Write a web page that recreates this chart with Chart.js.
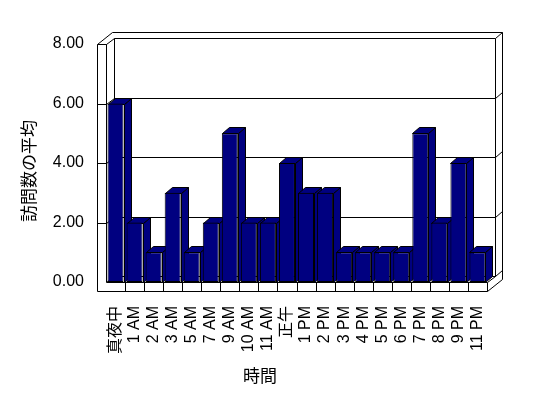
<!DOCTYPE html>
<html>
<head>
<meta charset="utf-8">
<script src="https://cdn.jsdelivr.net/npm/chart.js@4.4.0/dist/chart.umd.min.js"></script>
<style>
  body { margin: 0; background: #fff; }
  #wrap { width: 548px; height: 398px; }
</style>
</head>
<body>
<div id="wrap"><canvas id="visitsChart" width="548" height="398"></canvas></div>
<script>
// data
const hours = ["真夜中", "1 AM", "2 AM", "3 AM", "5 AM", "7 AM", "9 AM", "10 AM", "11 AM", "正午",
  "1 PM", "2 PM", "3 PM", "4 PM", "5 PM", "6 PM", "7 PM", "8 PM", "9 PM", "11 PM"];
const avgVisits = [6, 2, 1, 3, 1, 2, 5, 2, 2, 4, 3, 3, 1, 1, 1, 1, 5, 2, 4, 1];
const yTicks = [0, 2, 4, 6, 8];
const xTitle = "時間";
const yTitle = "訪問数の平均";

const navy = "#000080";
const fontFamily = "'Liberation Sans', 'Noto Sans CJK JP', sans-serif";
// fake 3D depth (pixels)
const wallDx = 8, wallDy = 6;   // floor / wall depth
const thickDx = 7, thickDy = 6; // wall thickness going back
const slab = 9;                 // left wall / floor front thickness
const barDx = 7, barDy = 6;

const px = (v) => Math.round(v) + 0.5;

function line(ctx, pts) {
  ctx.beginPath();
  ctx.moveTo(px(pts[0][0]), px(pts[0][1]));
  for (let i = 1; i < pts.length; i++) ctx.lineTo(px(pts[i][0]), px(pts[i][1]));
  ctx.stroke();
}

function poly(ctx, pts, fill) {
  ctx.beginPath();
  ctx.moveTo(px(pts[0][0]), px(pts[0][1]));
  for (let i = 1; i < pts.length; i++) ctx.lineTo(px(pts[i][0]), px(pts[i][1]));
  ctx.closePath();
  ctx.fillStyle = fill;
  ctx.fill();
  ctx.stroke();
}

const box3d = {
  id: "box3d",
  beforeDatasetsDraw(chart) {
    const { ctx, chartArea: a, scales } = chart;
    const y = scales.y;
    const L = a.left, R = a.right;
    const T = y.getPixelForValue(yTicks[yTicks.length - 1]);
    const B = y.getPixelForValue(0);
    ctx.save();
    ctx.strokeStyle = "#000";
    ctx.lineWidth = 1;

    // back wall (inner face)
    poly(ctx, [[L + wallDx, T - wallDy], [R + wallDx, T - wallDy], [R + wallDx, B - wallDy], [L + wallDx, B - wallDy]], "#fff");
    // outer edges of the walls
    const oTop = T - wallDy - thickDy;
    const oRight = R + wallDx + thickDx;
    line(ctx, [[L - slab, T], [L - slab + wallDx + thickDx, oTop], [oRight, oTop], [oRight, B - wallDy - thickDy + slab], [R, B + slab]]);
    line(ctx, [[L, T], [L + wallDx, T - wallDy]]);
    line(ctx, [[R + wallDx, T - wallDy], [oRight, oTop]]);
    // floor right side
    line(ctx, [[R, B], [R + wallDx, B - wallDy], [oRight, B - wallDy - thickDy]]);
    line(ctx, [[L, B], [L + wallDx, B - wallDy]]);

    // gridlines on the back wall + left/right wall edges
    yTicks.forEach((v) => {
      if (v === 0 || v === yTicks[yTicks.length - 1]) return;
      const yy = y.getPixelForValue(v);
      line(ctx, [[L, yy], [L + wallDx, yy - wallDy], [R + wallDx, yy - wallDy], [oRight, yy - wallDy - thickDy]]);
    });

    // left wall front + floor front (L shape)
    ctx.fillStyle = "#fff";
    ctx.fillRect(L - slab, T, slab, B - T + slab);
    ctx.fillRect(L, B, R - L, slab);
    line(ctx, [[L, T], [L - slab, T], [L - slab, B + slab], [R, B + slab], [R, B], [L, B], [L, T]]);
    yTicks.forEach((v) => {
      const yy = y.getPixelForValue(v);
      if (v > 0) line(ctx, [[L - slab, yy], [L, yy]]);
    });
    const band = (R - L) / hours.length;
    for (let i = 1; i < hours.length; i++) {
      const xx = L + band * i;
      line(ctx, [[xx, B], [xx, B + slab]]);
    }

    // bar tops and sides, left to right
    const meta = chart.getDatasetMeta(0);
    meta.data.forEach((bar) => {
      const p = bar.getProps(["x", "y", "base", "width"], true);
      const l = p.x - p.width / 2, r = p.x + p.width / 2;
      poly(ctx, [[r, p.y], [r + barDx, p.y - barDy], [r + barDx, p.base - barDy], [r, p.base]], navy);
      poly(ctx, [[l, p.y], [l + barDx, p.y - barDy], [r + barDx, p.y - barDy], [r, p.y]], navy);
    });
    ctx.restore();
  },
  afterDraw(chart) {
    const { ctx } = chart;
    ctx.save();
    ctx.fillStyle = "#000";
    ctx.font = "17px " + fontFamily;
    ctx.textAlign = "center";
    ctx.textBaseline = "middle";
    ctx.fillText(xTitle, 260, 377);
    ctx.translate(30, 171);
    ctx.rotate(-Math.PI / 2);
    ctx.fillText(yTitle, 0, 0);
    ctx.restore();
  }
};

const ctx = document.getElementById("visitsChart").getContext("2d");
new Chart(ctx, {
  type: "bar",
  data: {
    labels: hours,
    datasets: [{
      data: avgVisits,
      backgroundColor: navy,
      borderColor: "#000",
      borderWidth: 1,
      borderSkipped: false,
      barPercentage: 0.84,
      categoryPercentage: 1.0
    }]
  },
  options: {
    responsive: false,
    animation: false,
    layout: { padding: { left: 0, right: 61, top: 44, bottom: 0 } },
    plugins: {
      legend: { display: false },
      tooltip: { enabled: false }
    },
    scales: {
      x: {
        grid: { display: false, drawTicks: false },
        border: { display: false },
        ticks: {
          color: "#000",
          font: { family: fontFamily, size: 16 },
          minRotation: 90,
          maxRotation: 90,
          autoSkip: false,
          padding: 24
        },
        afterFit: (scale) => { scale.height = 116; }
      },
      y: {
        min: 0,
        max: 8,
        grid: { display: false, drawTicks: false },
        border: { display: false },
        ticks: {
          stepSize: 2,
          color: "#000",
          font: { family: fontFamily, size: 16 },
          padding: 22,
          callback: (v) => v.toFixed(2)
        },
        afterFit: (scale) => { scale.width = 106; }
      }
    }
  },
  plugins: [box3d]
});
</script>
</body>
</html>
